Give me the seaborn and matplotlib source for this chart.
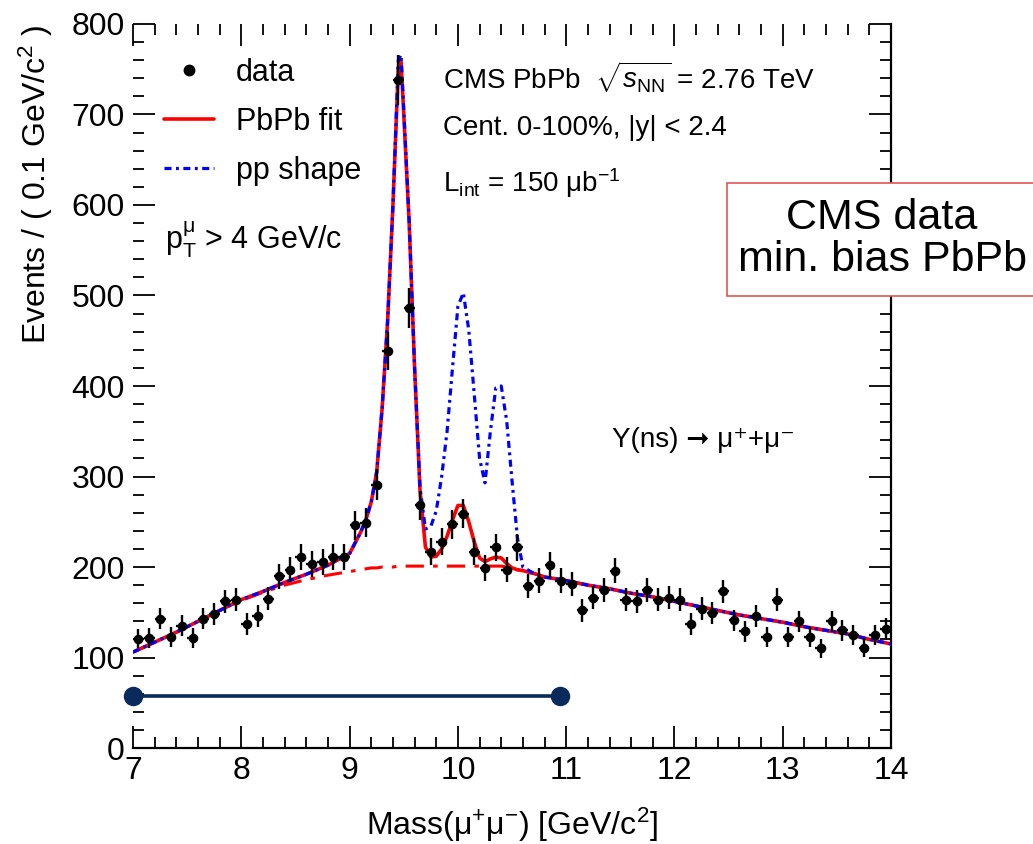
import numpy as np
import matplotlib
matplotlib.use("Agg")
import matplotlib.pyplot as plt
import matplotlib.patches as mpatches
from matplotlib.lines import Line2D
from matplotlib.ticker import MultipleLocator
import seaborn as sns

# ---- dimuon invariant-mass spectrum, 0.1 GeV/c^2 bins from 7 to 14 ----
bin_low, bin_high, bin_width = 7.0, 14.0, 0.1
counts = [
    121, 122, 143, 123, 135, 122, 143, 148, 162, 164,   # 7.0 - 8.0
    137, 146, 165, 190, 197, 211, 203, 206, 211, 211,   # 8.0 - 9.0
    246, 249, 291, 439, 738, 486, 268, 217, 228, 247,   # 9.0 - 10.0
    259, 217, 199, 222, 197, 222, 179, 185, 202, 185,   # 10.0 - 11.0
    181, 152, 166, 175, 196, 164, 162, 175, 164, 166,   # 11.0 - 12.0
    164, 137, 154, 149, 173, 141, 129, 146, 123, 164,   # 12.0 - 13.0
    123, 140, 123, 110, 140, 130, 125, 111, 125, 132,   # 13.0 - 14.0
]

# ---- fit curves sampled along the mass axis ----
curve_mass = [
    7.0, 7.2, 7.4, 7.6, 7.8, 8.0, 8.2, 8.4, 8.6, 8.8,
    9.0, 9.1, 9.15, 9.2, 9.25, 9.3, 9.35, 9.4, 9.45, 9.475,
    9.5, 9.55, 9.6, 9.65, 9.7, 9.75, 9.8, 9.85, 9.9, 9.95,
    10.0, 10.05, 10.1, 10.15, 10.2, 10.25, 10.3, 10.35, 10.4, 10.45,
    10.5, 10.55, 10.6, 10.7, 10.8, 11.0, 11.2, 11.4, 11.6, 11.8,
    12.0, 12.2, 12.4, 12.6, 12.8, 13.0, 13.2, 13.4, 13.6, 13.8, 14.0,
]
fit_pbpb = [
    106, 117, 128, 140, 152, 164, 173, 183, 192, 202,
    215, 238, 252, 272, 305, 375, 470, 600, 752, 758,
    700, 580, 420, 285, 222, 211, 212, 220, 234, 252,
    268, 268, 250, 228, 210, 206, 209, 211, 210, 204,
    199, 197, 196, 193, 189, 185, 180, 176, 171, 167,
    162, 157, 152, 147, 143, 139, 134, 130, 126, 120, 115,
]
pp_shape = [
    106, 117, 128, 140, 152, 164, 173, 183, 192, 202,
    215, 238, 252, 272, 305, 375, 470, 600, 760, 766,
    705, 582, 420, 288, 242, 245, 262, 300, 350, 420,
    488, 503, 462, 392, 320, 293, 350, 398, 400, 362,
    295, 232, 200, 193, 189, 185, 180, 176, 171, 167,
    162, 157, 152, 147, 143, 139, 134, 130, 126, 120, 115,
]
background = [
    106, 117, 128, 140, 152, 163, 172, 180, 186, 191,
    195, 197, 198, 199, 199, 200, 200, 200, 201, 201,
    201, 201, 201, 201, 201, 201, 201, 201, 201, 201,
    201, 201, 201, 201, 201, 201, 201, 201, 201, 200,
    198, 197, 195, 193, 189, 185, 180, 176, 171, 167,
    162, 157, 152, 147, 143, 139, 134, 130, 126, 120, 115,
]

# mass window marker drawn under the spectrum
window_mass = [7.0, 10.94]
window_level = 58

legend_labels = ["data", "PbPb fit", "pp shape"]
x_ticks = [7, 8, 9, 10, 11, 12, 13, 14]
y_ticks = [0, 100, 200, 300, 400, 500, 600, 700, 800]

# ---------------------------------------------------------------------
sns.set_theme(style="ticks")
plt.rcParams["font.family"] = ["Liberation Sans", "DejaVu Sans"]
plt.rcParams["mathtext.fontset"] = "custom"
plt.rcParams["mathtext.rm"] = "Liberation Sans"
plt.rcParams["mathtext.it"] = "Liberation Sans:italic"
plt.rcParams["mathtext.sf"] = "Liberation Sans"
for key in ("text.color", "axes.labelcolor", "xtick.color", "ytick.color",
            "axes.edgecolor"):
    plt.rcParams[key] = "black"

n_bins = len(counts)
bin_centers = bin_low + bin_width * (np.arange(n_bins) + 0.5)
counts_arr = np.asarray(counts, dtype=float)
errors = np.sqrt(counts_arr)

fig = plt.figure(figsize=(10.33, 8.44), dpi=100)
ax = fig.add_axes([0.1288, 0.1137, 0.7338, 0.8579])

pp_style = (0, (2.2, 1.4, 0.9, 1.4))

# fitted components
sns.lineplot(x=curve_mass, y=background, ax=ax, color="red", lw=2.2,
             linestyle=(0, (6, 3, 1.5, 3)), sort=False, estimator=None, zorder=2)
sns.lineplot(x=curve_mass, y=fit_pbpb, ax=ax, color="red", lw=2.6,
             sort=False, estimator=None, zorder=3)
sns.lineplot(x=curve_mass, y=pp_shape, ax=ax, color="blue", lw=2.3,
             linestyle=pp_style, sort=False, estimator=None, zorder=4)

# data points with statistical uncertainties
ax.errorbar(bin_centers, counts_arr, yerr=errors, xerr=bin_width / 2,
            fmt="none", ecolor="black", elinewidth=1.7, capsize=0, zorder=5)
sns.scatterplot(x=bin_centers, y=counts_arr, ax=ax, color="black", s=48,
                marker="o", edgecolor="black", linewidth=0, zorder=6)

# mass window bar
ax.plot(window_mass, [window_level, window_level], color="#0b2a5c", lw=2.6,
        marker="o", ms=13, clip_on=False, zorder=7)

ax.set_xlim(bin_low, bin_high)
ax.set_ylim(0, 800)
ax.set_xticks(x_ticks)
ax.set_yticks(y_ticks)
ax.xaxis.set_minor_locator(MultipleLocator(0.2))
ax.yaxis.set_minor_locator(MultipleLocator(20))
ax.tick_params(which="both", direction="in", top=True, right=True,
               color="black", width=1.3)
ax.tick_params(which="major", length=16, labelsize=23, pad=6)
ax.tick_params(which="minor", length=8)
for side in ("left", "top"):
    ax.spines[side].set_visible(False)
for side in ("bottom", "right"):
    ax.spines[side].set_color("black")
    ax.spines[side].set_linewidth(1.6)

ax.set_xlabel(r"Mass(μ$^{+}$μ$^{-}$) [GeV/c$^{2}$]", fontsize=23, labelpad=14)
ax.set_ylabel(r"Events / ( 0.1 GeV/c$^{2}$ )", fontsize=23, loc="top", labelpad=12)

# legend
handles = [
    Line2D([], [], color="black", marker="o", ms=7.5, lw=0),
    Line2D([], [], color="red", lw=2.6),
    Line2D([], [], color="blue", lw=2.3, linestyle=pp_style),
]
leg = ax.legend(handles, legend_labels, loc="upper left",
                bbox_to_anchor=(164 / 1033, 1 - 58 / 844),
                bbox_transform=fig.transFigure, frameon=False, fontsize=22,
                handlelength=1.65, handletextpad=0.7, labelspacing=0.62,
                borderpad=0, borderaxespad=0)

fig.text(165 / 1033, 1 - 240 / 844, r"p$_{\mathrm{T}}^{\mathrm{μ}}$ > 4 GeV/c",
         fontsize=22, ha="left", va="center")

info_lines = [
    r"CMS PbPb  $\sqrt{s_{\mathrm{NN}}}$ = 2.76 TeV",
    r"Cent. 0-100%, |y| < 2.4",
    r"L$_{\mathrm{int}}$ = 150 μb$^{-1}$",
]
for txt, ypix in zip(info_lines, [77, 128, 183]):
    fig.text(443 / 1033, 1 - ypix / 844, txt, fontsize=20, ha="left", va="center")

# annotation box on the right
box = mpatches.Rectangle((727 / 1033, 1 - 296 / 844), 0.4, 113 / 844,
                         transform=fig.transFigure, facecolor="white",
                         edgecolor="#e05555", lw=1.2, zorder=10, clip_on=False)
fig.patches.append(box)
fig.text(882 / 1033, 1 - 239 / 844, "CMS data\nmin. bias PbPb", fontsize=31,
         ha="center", va="center", linespacing=1.05, zorder=11)

fig.text(612 / 1033, 1 - 440 / 844, "Υ(ns) ➞ μ⁺+μ⁻", fontsize=20,
         ha="left", va="center")

fig.savefig("out.png", dpi=100, facecolor="white")
